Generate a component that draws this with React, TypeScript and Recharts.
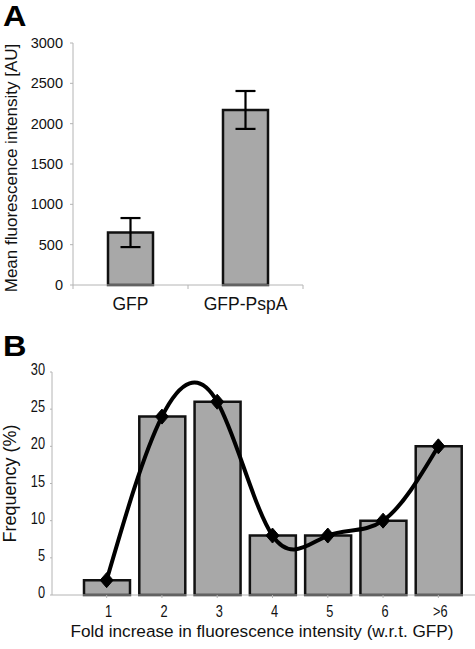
import React from 'react';
import { ComposedChart, BarChart, Bar, Line, XAxis, YAxis, ErrorBar, Label } from 'recharts';

// Panel A data
const aCategories = ['GFP', 'GFP-PspA'];
const aMeans = [650, 2170];
const aErrors = [180, 235];
const aTicks = [0, 500, 1000, 1500, 2000, 2500, 3000];

// Panel B data
const bCategories = ['1', '2', '3', '4', '5', '6', '>6'];
const bFreq = [2, 24, 26, 8, 8, 10, 20];
const bTicks = [0, 5, 10, 15, 20, 25, 30];

const dataA = aCategories.map((name, i) => ({ name, value: aMeans[i], err: aErrors[i] }));
const dataB = bCategories.map((name, i) => ({ name, bar: bFreq[i], line: bFreq[i] }));

const SANS = '"Liberation Sans", Arial, Helvetica, sans-serif';
const AXIS = '#b4b4b4';
const BAR_FILL = '#a8a8a8';

const TickA = (props: any) => {
  const { x, y, payload, index, visibleTicksCount } = props;
  const off = payload && typeof payload.offset === 'number' ? payload.offset : 0;
  const isLast = index === visibleTicksCount - 1;
  return (
    <g>
      <line x1={x - off} x2={x - off} y1={y} y2={y + 4} stroke={AXIS} strokeWidth={1} />
      {isLast && <line x1={x + off} x2={x + off} y1={y} y2={y + 4} stroke={AXIS} strokeWidth={1} />}
      <text x={x} y={y + 25} textAnchor="middle" fontFamily={SANS} fontSize={17.5} fill="#111">
        {payload.value}
      </text>
    </g>
  );
};

// Narrow (condensed) tick labels for panel B
const NarrowTickX = (props: any) => {
  const { x, y, payload } = props;
  return (
    <text
      transform={`translate(${x + 2} ${y + 13}) scale(0.8 1)`}
      textAnchor="middle"
      fontFamily={SANS}
      fontSize={16}
      fill="#111"
    >
      {payload.value}
    </text>
  );
};

const NarrowTickY = (props: any) => {
  const { x, y, payload } = props;
  return (
    <text
      transform={`translate(${x} ${y + 3}) scale(0.8 1)`}
      textAnchor="end"
      fontFamily={SANS}
      fontSize={16}
      fill="#111"
    >
      {payload.value}
    </text>
  );
};

const Diamond = (props: any) => {
  const { cx, cy, index } = props;
  if (cx == null || cy == null) return <g key={`d-${index}`} />;
  const w = 6.5;
  const h = 7.5;
  return (
    <polygon
      key={`d-${index}`}
      points={`${cx},${cy - h} ${cx + w},${cy} ${cx},${cy + h} ${cx - w},${cy}`}
      fill="#000"
      stroke="#000"
    />
  );
};

const vLabel = (text: string, cx: number, shift: number, fontSize: number) => (props: any) => {
  const vb = props.viewBox || {};
  const cy = (vb.y || 0) + (vb.height || 0) / 2 + shift;
  return (
    <text
      x={cx}
      y={cy}
      transform={`rotate(-90 ${cx} ${cy})`}
      textAnchor="middle"
      dominantBaseline="central"
      fontFamily={SANS}
      fontSize={fontSize}
      fill="#111"
    >
      {text}
    </text>
  );
};

const hLabel = (text: string, dxShift: number, baseline: number, fontSize: number) => (props: any) => {
  const vb = props.viewBox || {};
  const x = (vb.x || 0) + (vb.width || 0) / 2 + dxShift;
  const y = (vb.y || 0) + baseline;
  return (
    <text x={x} y={y} textAnchor="middle" fontFamily={SANS} fontSize={fontSize} fill="#111">
      {text}
    </text>
  );
};

const panelLetter: React.CSSProperties = {
  position: 'absolute',
  left: 3,
  fontFamily: SANS,
  fontWeight: 'bold',
  fontSize: 29,
  lineHeight: 'normal',
  color: '#000',
  transform: 'scaleX(1.12)',
  transformOrigin: 'left top',
};

export default function App() {
  return (
    <div style={{ position: 'absolute', left: 0, top: 0, width: 475, height: 649, background: '#fff', overflow: 'hidden' }}>
      <div style={{ ...panelLetter, top: 0 }}>A</div>
      <div style={{ ...panelLetter, top: 330 }}>B</div>

      <div style={{ position: 'absolute', left: 0, top: 0 }}>
        <BarChart width={320} height={320} data={dataA} margin={{ top: 43, right: 17, left: 0, bottom: 0 }}>
          <XAxis
            dataKey="name"
            height={35}
            stroke={AXIS}
            tickLine={false}
            tickSize={0}
            tickMargin={0}
            tick={<TickA />}
            interval={0}
          />
          <YAxis
            width={73}
            domain={[0, 3000]}
            ticks={aTicks}
            interval={0}
            stroke={AXIS}
            tickSize={3}
            tickMargin={7}
            tick={{ fill: '#111', fontSize: 14.5, fontFamily: SANS }}
          >
            <Label content={vLabel('Mean fluorescence intensity [AU]', 11, 4, 17)} />
          </YAxis>
          <Bar dataKey="value" fill={BAR_FILL} stroke="#111" strokeWidth={2.5} barSize={45} isAnimationActive={false}>
            <ErrorBar dataKey="err" width={10} strokeWidth={2.2} stroke="#000" isAnimationActive={false} />
          </Bar>
        </BarChart>
      </div>

      <div style={{ position: 'absolute', left: 0, top: 330 }}>
        <ComposedChart width={475} height={319} data={dataB} margin={{ top: 42, right: 0, left: 0, bottom: 0 }}>
          <XAxis
            dataKey="name"
            height={54}
            stroke={AXIS}
            tickSize={3}
            tickMargin={6}
            padding={{ left: 27, right: 9 }}
            interval={0}
            tick={<NarrowTickX />}
          >
            <Label content={hLabel('Fold increase in fluorescence intensity (w.r.t. GFP)', -1.5, 42, 17.2)} />
          </XAxis>
          <YAxis
            width={52}
            domain={[0, 30]}
            ticks={bTicks}
            interval={0}
            stroke={AXIS}
            tickSize={2}
            tickMargin={5}
            tick={<NarrowTickY />}
          >
            <Label content={vLabel('Frequency (%)', 10, 0, 18)} />
          </YAxis>
          <Bar dataKey="bar" fill={BAR_FILL} stroke="#111" strokeWidth={2.5} barSize={46} isAnimationActive={false} />
          <Line
            dataKey="line"
            type="natural"
            stroke="#000"
            strokeWidth={4}
            dot={Diamond}
            activeDot={false}
            isAnimationActive={false}
          />
        </ComposedChart>
      </div>
    </div>
  );
}
